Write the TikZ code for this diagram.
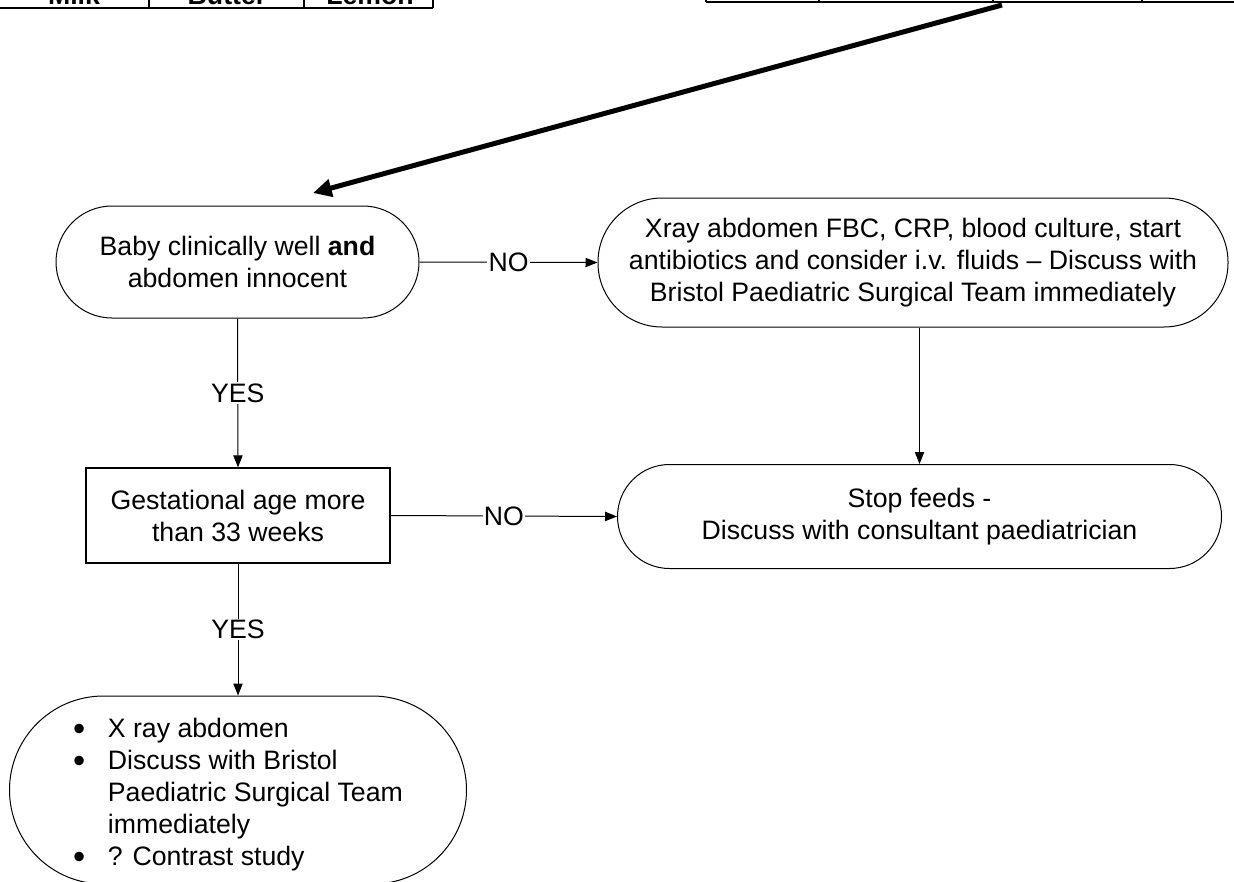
\documentclass[tikz,border=0pt]{standalone}
\usepackage{fontspec}
\setmainfont{Liberation Sans}
\usetikzlibrary{arrows.meta,calc}
\newcommand\bigbul{\raisebox{-0.13em}{\scalebox{1.3}{\textbullet}}}
\tikzset{
  txt/.style={font=\fontsize{20}{24}\selectfont, align=center, inner sep=0pt},
  term/.style={txt, draw, line width=0.75pt},
  procbox/.style={txt, draw, line width=1pt},
  conn/.style={line width=0.75pt, -{Triangle[length=9pt,width=7pt]}},
  lab/.style={font=\fontsize{20}{24}\selectfont, fill=white, inner sep=1pt},
  tbl/.style={line width=1.5pt},
  bigarrow/.style={line width=3.75pt, -{Triangle[length=14pt,width=13pt]}},
  tabtxt/.style={anchor=base, font=\fontsize{20}{24}\selectfont\bfseries, inner sep=0pt},
}
\begin{document}
\begin{tikzpicture}[x=0.75pt,y=-0.75pt]
\clip (0,0) rectangle (1234,881);
\fill[white] (0,0) rectangle (1234,881);

% cut-off tables at the top
\draw[tbl] (0,8) -- (433,8);
\draw[tbl] (149,-2) -- (149,8) (304,-2) -- (304,8) (433,-2) -- (433,8);
\node[tabtxt] (milk) at (74,5) {Milk};
\node[tabtxt] (butter) at (227,5) {Butter};
\node[tabtxt] (lemon) at (370,5) {Lemon};
\draw[tbl] (706,2.5) -- (1240,2.5);
\draw[tbl] (706,-2) -- (706,2.5) (819,-2) -- (819,2.5) (993,-2) -- (993,2.5) (1142,-2) -- (1142,2.5);

% nodes
\node[term, minimum width=272.25pt, minimum height=84pt, rounded corners=42pt] (A) at (237.5,262)
  {Baby clinically well \textbf{and}\\abdomen innocent};
\node[term, minimum width=472.5pt, minimum height=96.75pt, rounded corners=48pt] (B) at (913,262.5)
  {Xray abdomen FBC, CRP, blood culture, start\\antibiotics and consider i.v. fluids -- Discuss with\\Bristol Paediatric Surgical Team immediately};
\node[term, minimum width=453pt, minimum height=78pt, rounded corners=39pt] (C) at (919.5,516.5)
  {Stop feeds -\\Discuss with consultant paediatrician};
\node[procbox, minimum width=228pt, minimum height=71.25pt] (D) at (238,515.5)
  {Gestational age more\\than 33 weeks};
\node[term, minimum width=342.75pt, minimum height=141pt, rounded corners=70.5pt] (E) at (238,790)
  {\raisebox{-3.75pt}[\height][\depth]{\begin{tabular}{@{}l@{\hspace{17pt}}l@{}}
   \bigbul & X ray abdomen\\
   \bigbul & Discuss with Bristol\\
           & Paediatric Surgical Team\\
           & immediately\\
   \bigbul & ? Contrast study
   \end{tabular}}};

% connectors
\draw[conn] (A.east) -- node[lab] {NO} (B.west);
\draw[conn] (A.south) -- node[lab] {YES} (D.north);
\draw[conn] (D.east) -- node[lab] {NO} (C.west);
\draw[conn] (D.south) -- node[lab] {YES} (E.north);
\draw[conn] (C.north |- B.south) -- (C.north);

% thick arrow from the table above
\coordinate (tstart) at (1002,5);
\coordinate (tend) at (313,193);
\draw[bigarrow] (tstart) -- (tend);
\end{tikzpicture}
\end{document}
